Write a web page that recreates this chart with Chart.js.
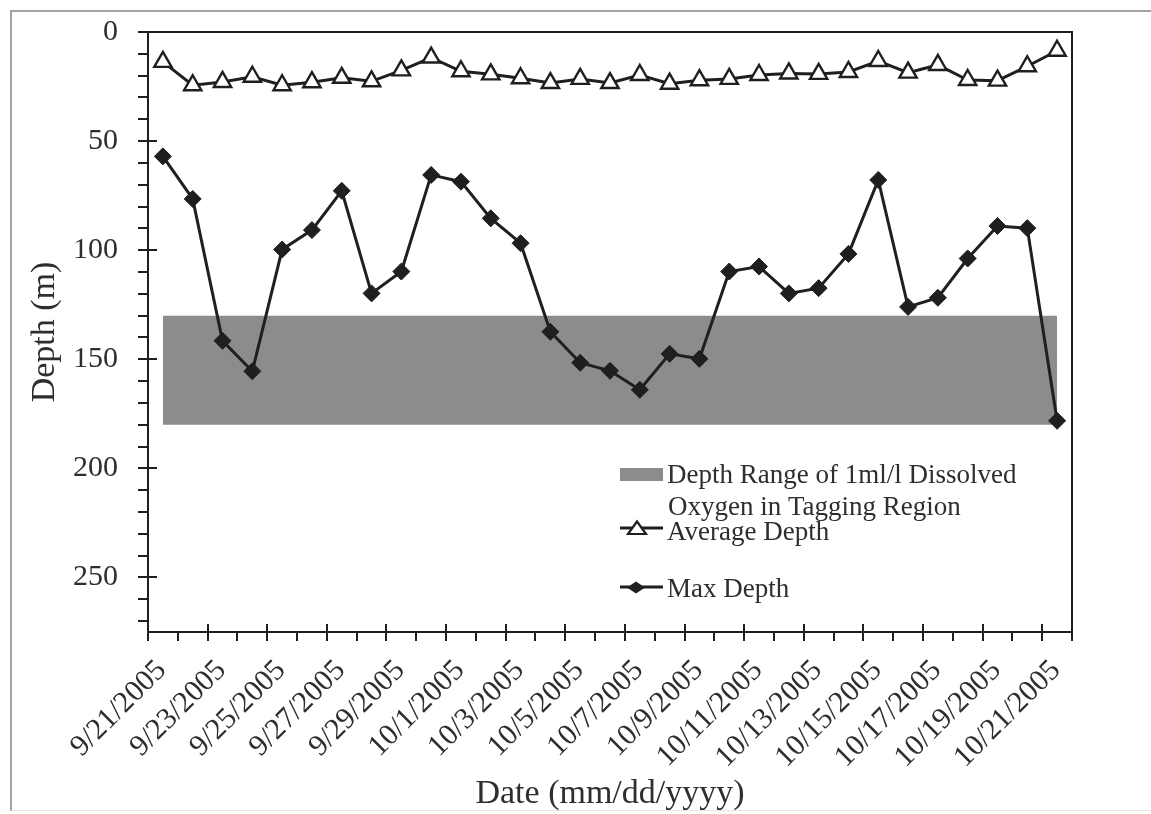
<!DOCTYPE html>
<html>
<head>
<meta charset="utf-8">
<title>Depth by Date</title>
<script src="https://cdn.jsdelivr.net/npm/chart.js@4/dist/chart.umd.min.js"></script>
<style>
  html, body { margin: 0; padding: 0; background: #ffffff; }
  #wrap { position: relative; width: 1151px; height: 814px; overflow: hidden; }
  #frame {
    position: absolute; left: 10px; top: 10px; right: -10px; bottom: 3px;
    border-left: 2px solid #a3a3a3; border-top: 2px solid #a3a3a3; border-bottom: 1px solid #e8e8e8;
  }
  canvas { position: absolute; left: 0; top: 0; }
</style>
</head>
<body>
<div id="wrap">
  <div id="frame"></div>
  <canvas id="chart" width="1151" height="814"></canvas>
</div>
<script>
// Daily dates on the category axis
const dates = [
  '9/21/2005', '9/22/2005', '9/23/2005', '9/24/2005', '9/25/2005', '9/26/2005', '9/27/2005',
  '9/28/2005', '9/29/2005', '9/30/2005', '10/1/2005', '10/2/2005', '10/3/2005', '10/4/2005',
  '10/5/2005', '10/6/2005', '10/7/2005', '10/8/2005', '10/9/2005', '10/10/2005', '10/11/2005',
  '10/12/2005', '10/13/2005', '10/14/2005', '10/15/2005', '10/16/2005', '10/17/2005',
  '10/18/2005', '10/19/2005', '10/20/2005', '10/21/2005'
];

// Average daily depth (m)
const averageDepth = [
  13.7, 24.4, 22.9, 20.5, 24.4, 23.0, 21.0, 22.6, 17.6, 11.7,
  18.0, 19.4, 21.2, 23.4, 21.5, 23.4, 19.7, 23.7, 22.1, 21.5,
  19.7, 19.0, 19.2, 18.3, 13.3, 18.6, 15.1, 22.0, 22.3, 15.7, 8.6
];

// Maximum daily depth (m)
const maxDepth = [
  57.0, 76.5, 141.5, 155.5, 99.7, 90.8, 72.8, 119.8, 109.8, 65.5,
  68.6, 85.4, 96.8, 137.4, 151.6, 155.3, 164.0, 147.5, 149.8, 109.8,
  107.5, 119.8, 117.4, 101.7, 67.8, 126.0, 121.8, 103.8, 88.9, 89.9, 178.2
];

// Depth range of 1 ml/l dissolved oxygen in the tagging region (m)
const oxygenRange = [130, 180];

// Depth axis
const depthMin = 0;
const depthMax = 275;
const depthMajorStep = 50;
const depthMinorStep = 10;

const INK = '#1f1f1f';
const TEXT = '#2e2e2e';
const BAND = '#8c8c8c';
const SERIF = "'Liberation Serif', 'Times New Roman', serif";

// Tick marks and the plot frame, placed through the scales
const axisMarks = {
  id: 'axisMarks',
  afterDatasetsDraw(chart) {
    const { ctx, chartArea: a, scales: { x, y } } = chart;
    ctx.save();
    ctx.strokeStyle = INK;
    ctx.lineWidth = 2;
    ctx.strokeRect(a.left, a.top, a.right - a.left, a.bottom - a.top);

    for (let v = depthMin; v < depthMax; v += depthMinorStep) {
      const py = Math.round(y.getPixelForValue(v));
      const major = v % depthMajorStep === 0;
      ctx.beginPath();
      ctx.moveTo(a.left - 10, py);
      ctx.lineTo(major ? a.left + 9 : a.left, py);
      ctx.stroke();
    }

    for (let i = 0; i <= dates.length; i++) {
      const px = Math.round(x.getPixelForValue(i - 0.5));
      const major = i % 2 === 0;
      ctx.beginPath();
      ctx.moveTo(px, major ? a.bottom - 8 : a.bottom);
      ctx.lineTo(px, a.bottom + 9);
      ctx.stroke();
    }
    ctx.restore();
  }
};

// Legend drawn inside the plot area
const insideLegend = {
  id: 'insideLegend',
  afterDraw(chart) {
    const { ctx } = chart;
    const ds = chart.data.datasets;
    const band = ds.find(d => d.id === 'bandLow');
    const avg = ds.find(d => d.id === 'avg');
    const mx = ds.find(d => d.id === 'max');
    const x0 = 620, x1 = 663, tx = 667;

    ctx.save();
    ctx.font = '27px ' + SERIF;
    ctx.textBaseline = 'alphabetic';
    ctx.textAlign = 'left';

    // oxygen band
    ctx.fillStyle = BAND;
    ctx.fillRect(x0, 468, x1 - x0, 13);
    ctx.fillStyle = TEXT;
    ctx.fillText(band.label[0], tx, 483);
    ctx.fillText(band.label[1], tx + 1, 515);

    // average depth
    ctx.strokeStyle = INK;
    ctx.lineWidth = 3;
    ctx.beginPath(); ctx.moveTo(x0, 528); ctx.lineTo(x1, 528); ctx.stroke();
    ctx.beginPath();
    ctx.moveTo(637 - 9, 534); ctx.lineTo(637, 521.5); ctx.lineTo(637 + 9, 534); ctx.closePath();
    ctx.fillStyle = '#ffffff'; ctx.fill();
    ctx.lineWidth = 2.2; ctx.stroke();
    ctx.fillStyle = TEXT;
    ctx.fillText(avg.label, tx, 539.5);

    // max depth
    ctx.lineWidth = 3;
    ctx.beginPath(); ctx.moveTo(x0, 587); ctx.lineTo(x1, 587); ctx.stroke();
    ctx.beginPath();
    ctx.moveTo(636 - 9, 587.5); ctx.lineTo(636, 581.5); ctx.lineTo(636 + 9, 587.5); ctx.lineTo(636, 593.5); ctx.closePath();
    ctx.fillStyle = INK; ctx.fill();
    ctx.fillStyle = TEXT;
    ctx.fillText(mx.label, tx, 597);
    ctx.restore();
  }
};

new Chart(document.getElementById('chart'), {
  type: 'line',
  data: {
    labels: dates,
    datasets: [
      {
        id: 'avg',
        label: 'Average Depth',
        data: averageDepth,
        borderColor: INK,
        borderWidth: 3,
        pointStyle: 'triangle',
        pointRadius: 10,
        pointBorderWidth: 2.4,
        pointBackgroundColor: '#ffffff',
        pointBorderColor: INK,
        tension: 0,
        clip: false
      },
      {
        id: 'max',
        label: 'Max Depth',
        data: maxDepth,
        borderColor: INK,
        borderWidth: 3,
        pointStyle: 'rectRot',
        pointRadius: 8.5,
        pointBorderWidth: 1,
        pointBackgroundColor: INK,
        pointBorderColor: INK,
        tension: 0,
        clip: false
      },
      {
        id: 'bandHigh',
        label: 'oxygen top',
        data: dates.map(() => oxygenRange[0]),
        borderWidth: 0,
        borderColor: 'rgba(0,0,0,0)',
        pointRadius: 0,
        fill: false
      },
      {
        id: 'bandLow',
        label: ['Depth Range of 1ml/l Dissolved', 'Oxygen in Tagging Region'],
        data: dates.map(() => oxygenRange[1]),
        borderWidth: 0,
        borderColor: 'rgba(0,0,0,0)',
        backgroundColor: BAND,
        pointRadius: 0,
        fill: '-1'
      }
    ]
  },
  options: {
    responsive: false,
    animation: false,
    devicePixelRatio: 1,
    layout: { padding: { left: 0, top: 32, right: 79, bottom: 0 } },
    plugins: {
      legend: { display: false },
      tooltip: { enabled: false }
    },
    scales: {
      x: {
        type: 'category',
        offset: true,
        grid: { display: false, drawTicks: true, tickLength: 8, tickColor: 'rgba(0,0,0,0)' },
        border: { display: false },
        ticks: {
          autoSkip: false,
          minRotation: 45,
          maxRotation: 45,
          padding: 13,
          labelOffset: -1,
          color: TEXT,
          font: { family: SERIF, size: 30 },
          callback(value, index) {
            return index % 2 === 0 ? this.getLabelForValue(value) : '';
          }
        },
        title: {
          display: true,
          text: 'Date (mm/dd/yyyy)',
          color: TEXT,
          font: { family: SERIF, size: 34 },
          padding: { top: 0, bottom: 0 }
        },
        afterFit(scale) { scale.height = 182; }
      },
      y: {
        reverse: true,
        min: depthMin,
        max: depthMax,
        grid: { display: false, drawTicks: true, tickLength: 26, tickColor: 'rgba(0,0,0,0)' },
        border: { display: false },
        ticks: {
          stepSize: depthMajorStep,
          includeBounds: false,
          padding: 4,
          color: TEXT,
          font: { family: SERIF, size: 30 }
        },
        title: {
          display: true,
          text: 'Depth (m)',
          color: TEXT,
          font: { family: SERIF, size: 34 },
          padding: { top: 25, bottom: 0 }
        },
        afterFit(scale) { scale.width = 148; }
      }
    }
  },
  plugins: [axisMarks, insideLegend]
});
</script>
</body>
</html>
